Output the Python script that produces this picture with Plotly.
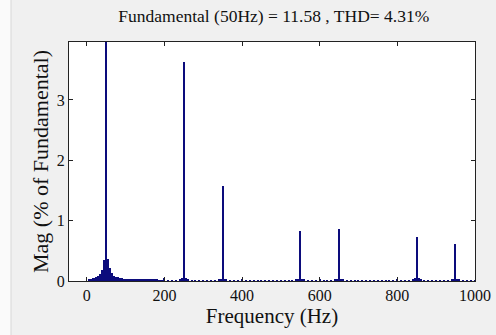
import plotly.graph_objects as go

# Harmonic spectrum (magnitude in % of fundamental)
freqs_low = [5, 10, 15, 20, 25, 30, 35, 40, 45, 50, 55, 60, 65, 70, 75, 80, 85, 90, 95, 100,
             105, 110, 115, 120, 125, 130, 135, 140, 145, 150, 155, 160, 165, 170, 175, 180,
             185, 190, 195, 200]
mags_low = [0.02, 0.04, 0.05, 0.05, 0.06, 0.08, 0.11, 0.18, 0.34, 100.0, 0.37, 0.21, 0.13,
            0.09, 0.07, 0.06, 0.05, 0.05, 0.04, 0.04, 0.04, 0.035, 0.035, 0.03, 0.03, 0.03,
            0.03, 0.025, 0.025, 0.025, 0.02, 0.02, 0.02, 0.02, 0.02, 0.02, 0.015, 0.015,
            0.015, 0.05]

freqs_high = [210, 220, 230, 240, 245, 250, 255, 260, 270, 280, 290, 300, 310, 320, 330, 340,
              345, 350, 355, 360, 370, 380, 390, 400, 410, 420, 430, 440, 450, 460, 470, 480,
              490, 500, 510, 520, 530, 540, 545, 550, 555, 560, 570, 580, 590, 600, 610, 620,
              630, 640, 645, 650, 655, 660, 670, 680, 690, 700, 710, 720, 730, 740, 750, 760,
              770, 780, 790, 800, 810, 820, 830, 840, 845, 850, 855, 860, 870, 880, 890, 900,
              910, 920, 930, 940, 945, 950, 955, 960, 970, 980, 990, 1000]
mags_high = [0.015, 0.015, 0.015, 0.02, 0.05, 3.63, 0.05, 0.02, 0.015, 0.015, 0.015, 0.015,
             0.015, 0.015, 0.015, 0.02, 0.04, 1.575, 0.04, 0.02, 0.015, 0.015, 0.015, 0.04,
             0.015, 0.015, 0.015, 0.015, 0.015, 0.015, 0.015, 0.015, 0.015, 0.015, 0.015,
             0.015, 0.015, 0.02, 0.04, 0.835, 0.04, 0.02, 0.015, 0.015, 0.015, 0.04, 0.015,
             0.015, 0.015, 0.02, 0.04, 0.86, 0.04, 0.02, 0.015, 0.015, 0.015, 0.015, 0.015,
             0.015, 0.015, 0.015, 0.015, 0.015, 0.015, 0.015, 0.015, 0.04, 0.015, 0.015,
             0.015, 0.02, 0.05, 0.735, 0.05, 0.02, 0.015, 0.015, 0.015, 0.015, 0.015, 0.015,
             0.015, 0.02, 0.04, 0.61, 0.04, 0.02, 0.015, 0.015, 0.015, 0.015]

freqs = freqs_low + freqs_high
mags = mags_low + mags_high

x_ticks = [0, 200, 400, 600, 800, 1000]
y_ticks = [0, 1, 2, 3]

title_text = "Fundamental (50Hz) = 11.58 , THD= 4.31%"
x_title = "Frequency (Hz)"
y_title = "Mag (% of Fundamental)"

serif = "Liberation Serif, Times New Roman, serif"
bar_color = "#0c0c7c"

fig = go.Figure()
fig.add_trace(go.Bar(
    x=freqs, y=mags, width=3.2,
    marker=dict(color=bar_color, line=dict(width=0)),
    showlegend=False,
))

fig.update_layout(
    width=496, height=335,
    margin=dict(l=69, r=21, t=42, b=54, autoexpand=False),
    paper_bgcolor="#f0f0f0",
    plot_bgcolor="#ffffff",
    bargap=0,
    title=dict(text=title_text, x=0.552, xanchor="center", y=0.953, yanchor="middle",
               font=dict(family=serif, size=17.5, color="#111111")),
    xaxis=dict(
        range=[-46, 1000], tickvals=x_ticks, ticktext=[str(v) for v in x_ticks],
        ticks="inside", ticklen=4, tickcolor="#222222", mirror="allticks",
        showline=True, linecolor="#222222", linewidth=1, showgrid=False, zeroline=False,
        automargin=False,
        tickfont=dict(family=serif, size=16, color="#111111"),
        title=dict(text=x_title, font=dict(family=serif, size=21, color="#111111"), standoff=4),
    ),
    yaxis=dict(
        range=[0, 3.96], tickvals=y_ticks, ticktext=[str(v) for v in y_ticks],
        ticks="inside", ticklen=4, tickcolor="#222222", mirror="allticks",
        showline=True, linecolor="#222222", linewidth=1, showgrid=False, zeroline=False,
        automargin=False,
        tickfont=dict(family=serif, size=16, color="#111111"),
        title=dict(text=y_title, font=dict(family=serif, size=22, color="#111111"), standoff=2),
    ),
    shapes=[
        dict(type="rect", xref="paper", yref="paper", x0=-69/406, x1=-58/406, y0=-1, y1=2,
             fillcolor="#fafafa", line=dict(width=0), layer="below"),
        dict(type="line", xref="paper", yref="paper", x0=-58/406, x1=-58/406, y0=-1, y1=2,
             line=dict(color="#d8d8d8", width=1), layer="below"),
    ],
)

fig.write_html(
    "out.html",
    config={"displayModeBar": False},
    post_script="document.body.style.margin='0';document.body.style.padding='0';"
                "document.body.style.overflow='hidden';",
)
